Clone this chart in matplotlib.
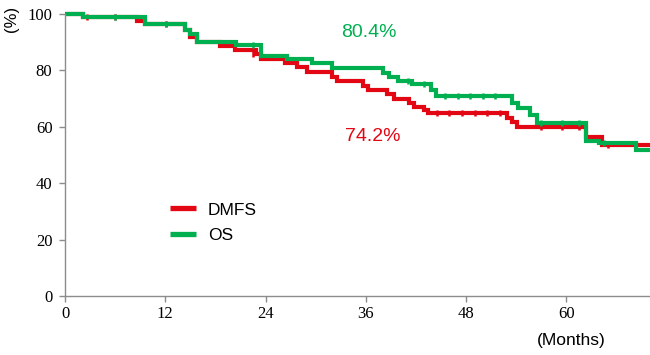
import matplotlib
matplotlib.use("Agg")
import matplotlib.pyplot as plt

# Data (months, percent survival)
dmfs_t = [0, 2.2, 8.6, 9.6, 14.3, 14.9, 15.8, 18.5, 20.3, 22.8, 23.5, 26.3, 27.8, 29.0,
          32.0, 32.6, 35.6, 36.2, 38.5, 39.4, 41.2, 41.8, 43.0, 43.4, 52.9, 53.5, 54.1,
          62.3, 64.2, 70.0]
dmfs_s = [100, 98.9, 97.6, 96.3, 94.3, 91.8, 90.2, 88.6, 87.2, 85.8, 83.9, 82.5, 81.1, 79.6,
          77.8, 76.1, 74.5, 73.0, 71.5, 70.0, 68.6, 67.1, 66.0, 64.8, 63.0, 61.8, 60.1,
          56.5, 53.5, 53.5]
os_t = [0, 2.2, 9.6, 14.3, 14.9, 15.8, 20.5, 23.5, 26.6, 29.5, 32.0, 38.0, 38.8, 39.8,
        41.5, 43.8, 44.4, 53.5, 54.2, 55.6, 56.5, 62.3, 63.9, 68.3, 70.0]
os_s = [100, 98.9, 96.3, 94.3, 92.9, 90.2, 89.0, 85.1, 83.9, 82.5, 80.7, 79.0, 77.5, 76.4,
        75.2, 73.0, 71.0, 68.3, 66.5, 64.2, 61.2, 55.0, 54.1, 51.8, 51.8]

# censoring marks
dmfs_cens_t = [2.6, 6.0, 12.1, 22.5, 44.5, 46.0, 47.5, 49.0, 50.5, 52.0, 57.0, 59.5, 61.5, 65.0]
dmfs_cens_s = [98.9, 98.9, 96.3, 85.8, 64.8, 64.8, 64.8, 64.8, 64.8, 64.8, 60.1, 60.1, 60.1, 53.5]
os_cens_t = [6.0, 12.1, 22.5, 41.0, 43.0, 45.5, 47.0, 48.5, 50.0, 51.5, 57.0, 59.5, 61.5, 64.5]
os_cens_s = [98.9, 96.3, 89.0, 76.4, 75.2, 71.0, 71.0, 71.0, 71.0, 71.0, 61.2, 61.2, 61.2, 54.1]

x_ticks = [0, 12, 24, 36, 48, 60]
y_ticks = [0, 20, 40, 60, 80, 100]

RED = "#E30613"
GREEN = "#00B050"

fig = plt.figure(figsize=(6.5, 3.55), dpi=100)
ax = fig.add_axes([0.1, 0.166, 0.9, 0.7946])

ax.step(dmfs_t, dmfs_s, where="post", color=RED, lw=3.0, label="DMFS", clip_on=False,
        solid_joinstyle="miter", solid_capstyle="butt")
ax.plot(dmfs_cens_t, dmfs_cens_s, ls="none", marker="|", ms=5, mew=1.8, color=RED, clip_on=False)
ax.step(os_t, os_s, where="post", color=GREEN, lw=3.0, label="OS", clip_on=False,
        solid_joinstyle="miter", solid_capstyle="butt")
ax.plot(os_cens_t, os_cens_s, ls="none", marker="|", ms=5, mew=1.8, color=GREEN, clip_on=False)

ax.set_xlim(0, 70)
ax.set_ylim(0, 100)
ax.set_xticks(x_ticks)
ax.set_yticks(y_ticks)

for s in ["top", "right"]:
    ax.spines[s].set_visible(False)
for s in ["left", "bottom"]:
    ax.spines[s].set_color("#8c8c8c")
    ax.spines[s].set_linewidth(1.0)

ax.tick_params(axis="both", colors="#8c8c8c", labelcolor="black", length=4, width=1.0)
ax.tick_params(axis="x", pad=3)
ax.tick_params(axis="y", pad=5)
for lab in ax.get_xticklabels() + ax.get_yticklabels():
    lab.set_fontfamily("Liberation Serif")
    lab.set_fontsize(12)

ax.text(36.4, 93.6, "80.4%", color=GREEN, fontsize=14, family="Liberation Sans",
        ha="center", va="center")
ax.text(36.8, 56.4, "74.2%", color=RED, fontsize=14, family="Liberation Sans",
        ha="center", va="center")

leg = ax.legend(loc="center left", bbox_to_anchor=(0.179, 0.26), frameon=False,
                borderpad=0, borderaxespad=0, handlelength=1.5, handletextpad=0.7,
                labelspacing=0.6, prop={"family": "Liberation Sans", "size": 12.5})
for h in leg.get_lines():
    h.set_linewidth(3.8)

fig.text(571 / 650, 1 - 340 / 355, "(Months)", fontsize=12.5, family="Liberation Sans",
         ha="center", va="center")
fig.text(12 / 650, 1 - 19 / 355, "(%)", fontsize=12, family="Liberation Sans",
         ha="center", va="center", rotation=90)

fig.savefig("out.png", dpi=100)
